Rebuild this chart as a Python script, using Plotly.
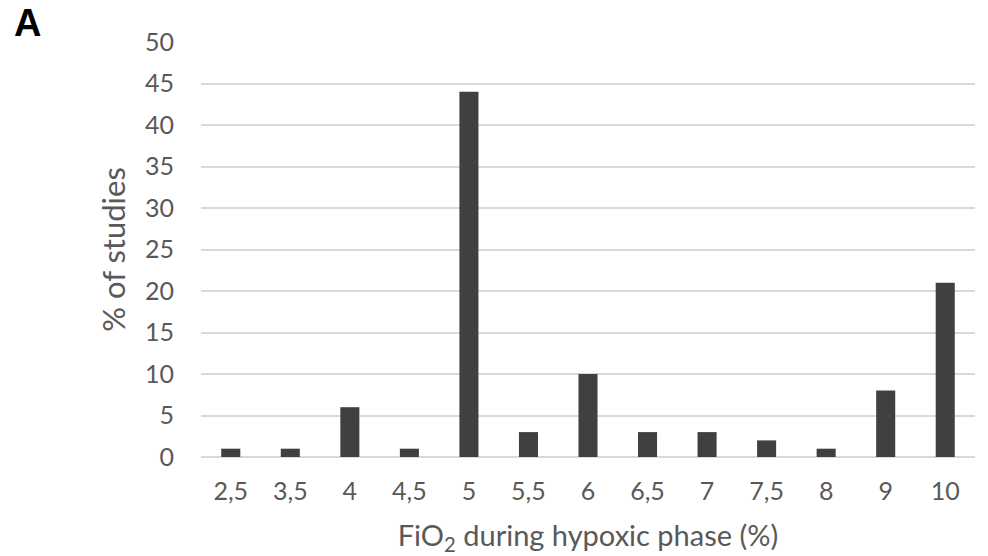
import plotly.graph_objects as go

# FiO2 levels used during the hypoxic phase and share of studies at each level
fio2_levels = ["2,5", "3,5", "4", "4,5", "5", "5,5", "6", "6,5", "7", "7,5", "8", "9", "10"]
pct_studies = [1, 1, 6, 1, 44, 3, 10, 3, 3, 2, 1, 8, 21]

y_ticks = list(range(0, 51, 5))

font_family = "Lato, 'Open Sans', sans-serif"
text_color = "#595959"

# plot-area geometry in pixels
ML, MR, MT, MB = 201, 13, 42, 99
W, H = 988, 556
PW, PH = W - ML - MR, H - MT - MB

fig = go.Figure(
    go.Bar(
        x=fio2_levels,
        y=pct_studies,
        marker=dict(color="#404040", line=dict(width=0)),
        hoverinfo="x+y",
    )
)

fig.update_layout(
    width=W,
    height=H,
    margin=dict(l=ML, r=MR, t=MT, b=MB),
    paper_bgcolor="white",
    plot_bgcolor="white",
    bargap=0.68,
    showlegend=False,
    font=dict(family=font_family, color=text_color, size=24),
    xaxis=dict(
        type="category",
        automargin=False,
        showgrid=False,
        showline=False,
        zeroline=False,
        ticks="",
        ticklabelstandoff=17,
        tickfont=dict(size=25, color=text_color),
        title=dict(
            text="FiO<sub>2</sub> during hypoxic phase (%)",
            font=dict(size=29, color=text_color),
            standoff=22,
        ),
    ),
    yaxis=dict(
        range=[0, 50],
        automargin=False,
        tickvals=y_ticks,
        showgrid=True,
        gridcolor="#d9d9d9",
        gridwidth=1.5,
        zeroline=True,
        zerolinecolor="#d9d9d9",
        zerolinewidth=1.5,
        showline=False,
        ticks="",
        ticklabelstandoff=26,
        tickfont=dict(size=25, color=text_color),
        title=dict(text="% of studies", font=dict(size=31, color=text_color), standoff=10),
    ),
    annotations=[
        dict(
            text="<b>A</b>",
            x=(12 - ML) / PW,
            y=1 + MT / PH,
            xref="paper",
            yref="paper",
            xanchor="left",
            yanchor="top",
            showarrow=False,
            font=dict(family="Liberation Sans, Arial, sans-serif", size=38, color="black"),
        )
    ],
)

fig.write_html("out.html")
